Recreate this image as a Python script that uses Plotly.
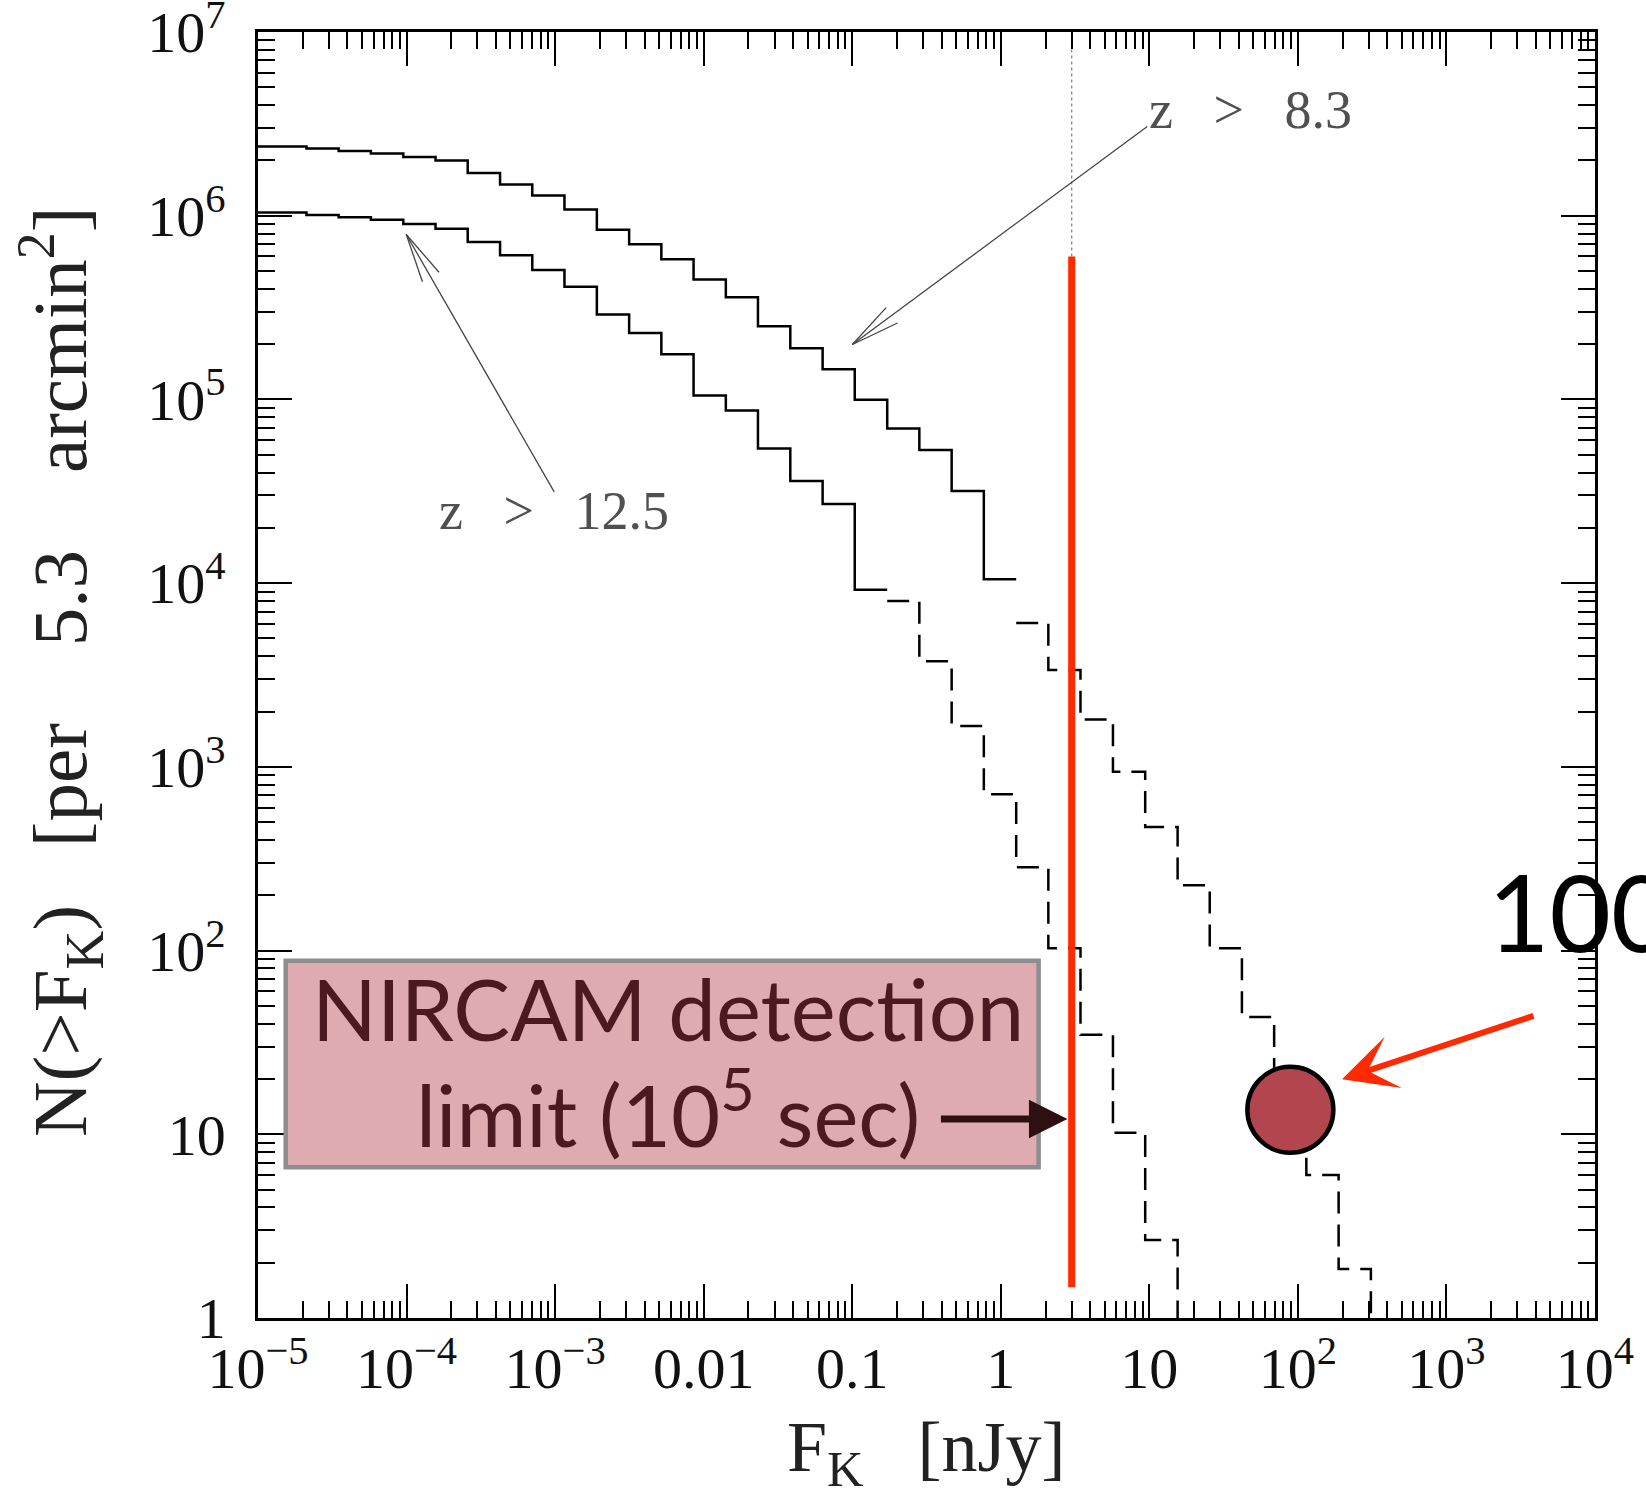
import math
import plotly.graph_objects as go

# ---------------- data ----------------
# flux bin edges [nJy]
bin_edges = [1.0e-5, 2.12e-5, 3.49e-5, 5.75e-5, 9.51e-5, 1.567e-4, 2.58e-4, 4.26e-4,
             7.02e-4, 1.156e-3, 1.91e-3, 3.15e-3, 5.19e-3, 8.55e-3, 1.41e-2, 2.32e-2,
             3.83e-2, 6.32e-2, 0.104, 0.172, 0.283, 0.467, 0.769, 1.27, 2.09, 3.44,
             5.69, 9.38, 15.5, 25.5, 42.0, 69.2, 114.0, 188.0, 310.0, 512.0]

# z > 8.3 : cumulative counts N(>F_K)
z83_solid = [2.38e6, 2.32e6, 2.25e6, 2.18e6, 2.09e6, 2.00e6, 1.71e6, 1.48e6, 1.29e6,
             1.08e6, 8.4e5, 7.0e5, 5.8e5, 4.5e5, 3.6e5, 2.5e5, 1.9e5, 1.46e5, 9.96e4,
             6.95e4, 5.3e4, 3.17e4, 1.05e4]
z83_dashed = [6.07e3, 3.37e3, 1.81e3, 9.4e2, 4.7e2, 2.27e2, 1.03e2, 43.5, 16.0, 6.0,
              1.85, 0.5]

# z > 12.5
z125_solid = [1.04e6, 1.01e6, 9.8e5, 9.5e5, 9.0e5, 8.5e5, 7.2e5, 6.1e5, 5.06e5, 4.1e5,
              2.9e5, 2.3e5, 1.76e5, 1.05e5, 8.7e4, 5.4e4, 3.6e4, 2.7e4, 9.2e3]
z125_dashed = [8.0e3, 3.76e3, 1.67e3, 7.1e2, 2.84e2, 1.03e2, 34.8, 10.2, 2.66, 0.5]

# NIRCAM detection limit
nircam_flux = 3.0
nircam_top = 6.0e5
nircam_bottom = 1.47

# highlighted point
point_flux = [89.0]
point_n = [13.6]

x_tickvals = [1e-5, 1e-4, 1e-3, 1e-2, 1e-1, 1, 10, 100, 1e3, 1e4]
x_ticktext = ["10<sup>\u22125</sup>", "10<sup>\u22124</sup>", "10<sup>\u22123</sup>",
              "0.01", "0.1", "1", "10", "10<sup>2</sup>", "10<sup>3</sup>", "10<sup>4</sup>"]
y_tickvals = [1, 10, 100, 1e3, 1e4, 1e5, 1e6, 1e7]
y_ticktext = ["1", "10", "10<sup>2</sup>", "10<sup>3</sup>", "10<sup>4</sup>",
              "10<sup>5</sup>", "10<sup>6</sup>", "10<sup>7</sup>"]

# ---------------- layout constants ----------------
W, H = 1646, 1504
ML, MR, MT, MB = 258, 51, 32, 186
XR = [-5, 4]
YR = [0, 7]
PW, PH = W - ML - MR, H - MT - MB
PXX = PW / (XR[1] - XR[0])
PXY = PH / (YR[1] - YR[0])

SERIF = "Liberation Serif"
SANS = "Lato"
RED = "#FF2A00"


def step_xy(edges, levels):
    return list(edges), list(levels) + [levels[-1]]


fig = go.Figure()

x, y = step_xy(bin_edges[0:24], z83_solid)
fig.add_trace(go.Scatter(x=x, y=y, mode="lines", line=dict(shape="hv", color="black", width=2.5),
                         name="z > 8.3", showlegend=False))
x, y = step_xy(bin_edges[23:36], z83_dashed)
fig.add_trace(go.Scatter(x=x, y=y, mode="lines",
                         line=dict(shape="hv", color="black", width=2.5, dash="22px,11px"),
                         showlegend=False))
x, y = step_xy(bin_edges[0:20], z125_solid)
fig.add_trace(go.Scatter(x=x, y=y, mode="lines", line=dict(shape="hv", color="black", width=2.5),
                         name="z > 12.5", showlegend=False))
x, y = step_xy(bin_edges[19:30], z125_dashed)
fig.add_trace(go.Scatter(x=x, y=y, mode="lines",
                         line=dict(shape="hv", color="black", width=2.5, dash="22px,11px"),
                         showlegend=False))

# dotted guide above the limit line
fig.add_trace(go.Scatter(x=[nircam_flux, nircam_flux], y=[nircam_top, 1e7], mode="lines",
                         line=dict(color="#8a8a8a", width=1.4, dash="3px,3px"), showlegend=False))
# red limit line
fig.add_trace(go.Scatter(x=[nircam_flux, nircam_flux], y=[nircam_bottom, nircam_top], mode="lines",
                         line=dict(color=RED, width=7), showlegend=False))

# highlighted point
fig.add_trace(go.Scatter(x=point_flux, y=point_n, mode="markers",
                         marker=dict(size=86, color="#B2454E", line=dict(color="black", width=4.5)),
                         showlegend=False))


# thin pointer arrows with open V heads (tip/tail in log10 units)
def pointer(tail, tip, head_len=50, half_angle=11.0):
    tx, ty = tail
    hx, hy = tip
    dx = (tx - hx) * PXX
    dy = (ty - hy) * PXY
    ang = math.atan2(dy, dx)
    fig.add_trace(go.Scatter(x=[10 ** tx, 10 ** hx], y=[10 ** ty, 10 ** hy], mode="lines",
                             line=dict(color="#444444", width=1.3), showlegend=False))
    for s in (-1, 1):
        a = ang + s * math.radians(half_angle)
        px = hx + head_len * math.cos(a) / PXX
        py = hy + head_len * math.sin(a) / PXY
        fig.add_trace(go.Scatter(x=[10 ** hx, 10 ** px], y=[10 ** hy, 10 ** py], mode="lines",
                                 line=dict(color="#444444", width=1.3), showlegend=False))


pointer((0.986, 6.486), (-0.999, 5.299))
pointer((-3.006, 4.497), (-4.002, 5.898))


def px2paper_x(px):
    return (px - ML) / PW


def px2paper_y(py):
    return (H - MB - py) / PH


NB = "\u00a0"
annotations = []
# curve labels
annotations.append(dict(x=1.68, y=6.575, xref="x", yref="y",
                        text="z" + NB * 3 + ">" + NB * 3 + "8.3",
                        showarrow=False, font=dict(family=SERIF, size=54, color="#505050"),
                        xanchor="center", yanchor="middle"))
annotations.append(dict(x=-3.010, y=4.393, xref="x", yref="y",
                        text="z" + NB * 3 + ">" + NB * 3 + "12.5",
                        showarrow=False, font=dict(family=SERIF, size=54, color="#505050"),
                        xanchor="center", yanchor="middle"))

# NIRCAM box text
annotations.append(dict(x=px2paper_x(668), y=px2paper_y(1008), xref="paper", yref="paper",
                        text="NIRCAM detection", showarrow=False,
                        font=dict(family=SANS, size=85, color="#4B1A20"),
                        xanchor="center", yanchor="middle"))
annotations.append(dict(x=px2paper_x(668), y=px2paper_y(1108), xref="paper", yref="paper",
                        text="limit (10<sup>5</sup> sec)", showarrow=False,
                        font=dict(family=SANS, size=85, color="#4B1A20"),
                        xanchor="center", yanchor="middle"))
# black arrow to the limit line
annotations.append(dict(x=math.log10(2.81), y=math.log10(12.1), xref="x", yref="y",
                        ax=-128, ay=0, axref="pixel", ayref="pixel", text="",
                        showarrow=True, arrowhead=2, arrowsize=1.1, arrowwidth=7,
                        arrowcolor="#2E1013"))
# red arrow to the point
annotations.append(dict(x=2.297, y=1.299, xref="x", yref="y",
                        ax=193, ay=-64, axref="pixel", ayref="pixel", text="",
                        showarrow=True, arrowhead=3, arrowsize=1.5, arrowwidth=6,
                        arrowcolor=RED))
# big label at right
annotations.append(dict(x=px2paper_x(1486), y=px2paper_y(911), xref="paper", yref="paper",
                        text="100", showarrow=False,
                        font=dict(family=SANS, size=106, color="black"),
                        xanchor="left", yanchor="middle"))
# axis titles
annotations.append(dict(x=px2paper_x(926), y=px2paper_y(1452), xref="paper", yref="paper",
                        text="F<sub>K</sub>" + NB * 3 + "[nJy]", showarrow=False,
                        font=dict(family=SERIF, size=72, color="#222222"),
                        xanchor="center", yanchor="middle"))
annotations.append(dict(x=px2paper_x(60), y=px2paper_y(672), xref="paper", yref="paper",
                        text="N(>F<sub>K</sub>)" + NB * 3 + "[per" + NB * 4 + "5.3" + NB * 4
                             + "arcmin<sup>2</sup>]",
                        showarrow=False, textangle=-90,
                        font=dict(family=SERIF, size=77, color="#222222"),
                        xanchor="center", yanchor="middle"))

shapes = [dict(type="rect", xref="paper", yref="paper",
               x0=px2paper_x(285.7), x1=px2paper_x(1038.6),
               y0=px2paper_y(1167.3), y1=px2paper_y(960.7),
               fillcolor="#DEABB1", line=dict(color="#8E8E8E", width=4.5), layer="above")]

minor_x = [m * 10 ** e for e in range(-5, 4) for m in range(2, 10)]
minor_y = [m * 10 ** e for e in range(0, 7) for m in range(2, 10)]

axis_common = dict(type="log", showgrid=False, zeroline=False, showline=True,
                   linecolor="black", linewidth=2.5, mirror="ticks", ticks="inside",
                   ticklen=34, tickwidth=2, tickcolor="black", ticklabeloverflow="allow",
                   tickfont=dict(family=SERIF, size=58, color="#111111"))

fig.update_layout(
    width=W, height=H,
    margin=dict(l=ML, r=MR, t=MT, b=MB, autoexpand=False),
    paper_bgcolor="white", plot_bgcolor="white",
    showlegend=False,
    xaxis=dict(range=XR, tickmode="array", tickvals=x_tickvals, ticktext=x_ticktext,
               ticklabelstandoff=-2,
               minor=dict(ticks="inside", ticklen=17, tickwidth=2, tickcolor="black",
                          tickmode="array", tickvals=minor_x, showgrid=False),
               **axis_common),
    yaxis=dict(range=YR, tickmode="array", tickvals=y_tickvals, ticktext=y_ticktext,
               ticklabelstandoff=18,
               minor=dict(ticks="inside", ticklen=17, tickwidth=2, tickcolor="black",
                          tickmode="array", tickvals=minor_y, showgrid=False),
               **axis_common),
    annotations=annotations,
    shapes=shapes,
)

# place the figure flush with the page corner (no default body margin), no mode bar
fig.write_html("out.html", config={"displayModeBar": False},
               post_script="document.body.style.margin='0';")
